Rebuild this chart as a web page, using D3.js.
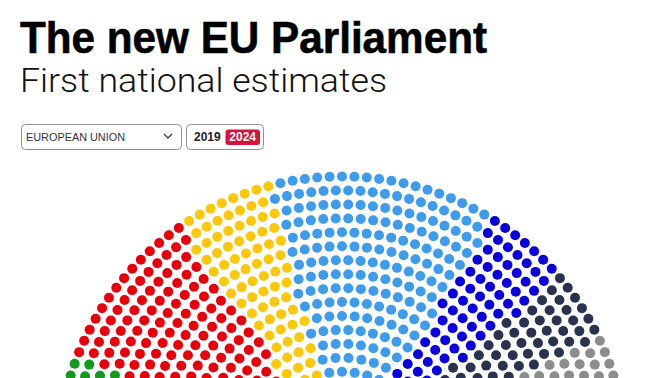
<!DOCTYPE html>
<html>
<head>
<meta charset="utf-8">
<script src="https://cdn.jsdelivr.net/npm/d3@7"></script>
<style>
  html, body { margin: 0; padding: 0; background: #fff; }
  svg { display: block; }
</style>
</head>
<body>
<svg id="chart" width="672" height="378"></svg>
<script>
// ---- data ----
const parties = ["The Left", "Greens/EFA", "S&D", "Renew", "EPP", "ECR", "ID", "NI", "Others"];
const seats   = [36, 53, 135, 79, 182, 70, 58, 45, 62];
const colors  = ["#8b1a1a", "#129a1e", "#e8000b", "#fcc80c", "#3f9bec", "#0a00dd", "#29334f", "#8c8c8c", "#c4c4c4"];
const title = "The new EU Parliament";
const subtitle = "First national estimates";
const regionLabel = "EUROPEAN UNION";
const years = ["2019", "2024"];

const totalSeats = d3.sum(seats);
const svg = d3.select("#chart");

// ---- header ----
svg.append("text")
  .attr("x", 20).attr("y", 53)
  .attr("font-family", "'Liberation Sans', Arial, sans-serif")
  .attr("font-weight", 700).attr("font-size", 44.5)
  .attr("fill", "#000")
  .attr("stroke", "#000").attr("stroke-width", 0.6)
  .attr("textLength", 467).attr("lengthAdjust", "spacingAndGlyphs")
  .text(title);

svg.append("text")
  .attr("x", 20).attr("y", 92)
  .attr("font-family", "Roboto, 'Open Sans', sans-serif")
  .attr("font-weight", 300).attr("font-size", 34)
  .attr("fill", "#111")
  .attr("textLength", 367).attr("lengthAdjust", "spacingAndGlyphs")
  .text(subtitle);

// dropdown
const ctrl = svg.append("g");
ctrl.append("rect").attr("x", 21.5).attr("y", 124.5).attr("width", 160).attr("height", 25)
  .attr("rx", 4).attr("fill", "#fff").attr("stroke", "#8f8f8f").attr("stroke-width", 1);
ctrl.append("text").attr("x", 26).attr("y", 141)
  .attr("font-family", "'Liberation Sans', Arial, sans-serif").attr("font-size", 11.5)
  .attr("fill", "#333").attr("textLength", 99).attr("lengthAdjust", "spacingAndGlyphs")
  .text(regionLabel);
ctrl.append("path").attr("d", "M164,134 L168,138 L172,134")
  .attr("fill", "none").attr("stroke", "#444").attr("stroke-width", 1.4);

// year toggle
ctrl.append("rect").attr("x", 186.5).attr("y", 124.5).attr("width", 77).attr("height", 25)
  .attr("rx", 4).attr("fill", "#fff").attr("stroke", "#8f8f8f").attr("stroke-width", 1);
ctrl.append("text").attr("x", 194).attr("y", 141)
  .attr("font-family", "'Liberation Sans', Arial, sans-serif").attr("font-weight", 700).attr("font-size", 12)
  .attr("fill", "#222").text(years[0]);
ctrl.append("rect").attr("x", 225.5).attr("y", 129.5).attr("width", 34.5).attr("height", 15.5)
  .attr("rx", 3).attr("fill", "#d3153d");
ctrl.append("text").attr("x", 242.7).attr("y", 141).attr("text-anchor", "middle")
  .attr("font-family", "'Liberation Sans', Arial, sans-serif").attr("font-weight", 700).attr("font-size", 12)
  .attr("fill", "#fff").text(years[1]);

// ---- hemicycle ----
const cx = 342, cy = 461;
const nRows = 15;
const rOuter = 284.5, rowStep = 13.95;
const rInner = rOuter - rowStep * (nRows - 1);
const radius = d3.scaleLinear().domain([0, nRows - 1]).range([rInner, rOuter]);

// seats per row proportional to radius (largest remainder)
const radii = d3.range(nRows).map(radius);
const sumR = d3.sum(radii);
const raw = radii.map(r => totalSeats * r / sumR);
const perRow = raw.map(Math.floor);
let rem = totalSeats - d3.sum(perRow);
d3.range(nRows).sort((a, b) => (raw[b] - perRow[b]) - (raw[a] - perRow[a]))
  .slice(0, rem).forEach(i => perRow[i]++);

let all = [];
perRow.forEach((n, i) => {
  const ang = d3.scaleLinear().domain([0, n - 1]).range([Math.PI, 0]);
  for (let k = 0; k < n; k++) all.push({ row: i, r: radii[i], a: ang(k) });
});
all.sort((p, q) => (q.a - p.a) || (p.r - q.r));

// assign parties in order
const cum = Array.from(d3.cumsum(seats));
all.forEach((s, idx) => {
  s.party = d3.bisectRight(cum, idx);
});

const color = d3.scaleOrdinal().domain(d3.range(parties.length)).range(colors);

svg.append("g").selectAll("circle").data(all).join("circle")
  .attr("cx", d => cx + d.r * Math.cos(d.a))
  .attr("cy", d => cy - d.r * Math.sin(d.a))
  .attr("r", 5)
  .attr("fill", d => color(d.party));
</script>
</body>
</html>
